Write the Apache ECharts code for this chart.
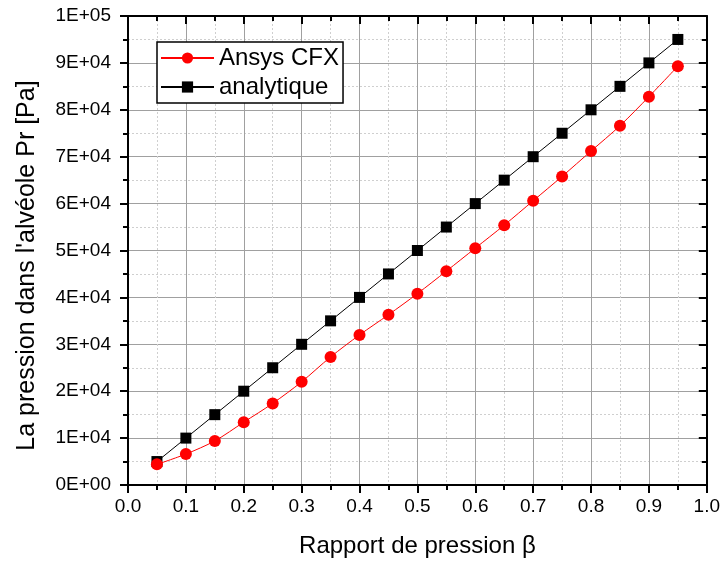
<!DOCTYPE html>
<html>
<head>
<meta charset="utf-8">
<script src="https://cdn.jsdelivr.net/npm/echarts@6/dist/echarts.min.js"></script>
<style>html,body{margin:0;padding:0;background:#fff}#c{width:723px;height:564px}</style>
</head>
<body>
<div id="c"></div>
<script>
const beta = [0.05,0.10,0.15,0.20,0.25,0.30,0.35,0.40,0.45,0.50,0.55,0.60,0.65,0.70,0.75,0.80,0.85,0.90,0.95];
const cfx = [4400,6600,9400,13400,17400,22000,27300,32000,36300,40800,45600,50500,55400,60600,65800,71200,76600,82800,89300];
const analytique = [5000,10000,15000,20000,25000,30000,35000,40000,45000,50000,55000,60000,65000,70000,75000,80000,85000,90000,95000];
const seriesNames = ['Ansys CFX','analytique'];
const xTitle = 'Rapport de pression \u03b2';
const yTitle = "La pression dans l'alv\u00e9ole Pr [Pa]";

function sci(v){
  if (v === 0) return '0E+00';
  const e = Math.floor(Math.log10(v) + 1e-9);
  const m = Math.round(v / Math.pow(10, e));
  return m + 'E+' + (e < 10 ? '0' + e : e);
}
const F = 'Liberation Sans, Arial, sans-serif';
const chart = echarts.init(document.getElementById('c'));
const axisLine = {show:true, onZero:false, lineStyle:{color:'#000', width:2}};
const major = {show:true, lineStyle:{color:'#a0a0a0', width:1}};
const minor = {show:true, lineStyle:{color:'#cfcfcf', width:1, type:[2,2]}};
chart.setOption({
  animation:false,
  grid:{left:128, right:14, top:16, bottom:79},
  legend:{
    orient:'vertical', left:157, top:42,
    data:seriesNames,
    borderColor:'#000', borderWidth:1.5, backgroundColor:'#fff',
    padding:[4,4,4,3], itemGap:5, itemWidth:53, itemHeight:14,
    textStyle:{fontFamily:F, fontSize:24, color:'#000'}
  },
  xAxis:[{
    type:'value', min:0, max:1, interval:0.1,
    name:xTitle, nameLocation:'middle', nameGap:49,
    nameTextStyle:{fontFamily:F, fontSize:24, color:'#000'},
    axisLine:axisLine,
    axisTick:{show:true, inside:false, length:8, lineStyle:{color:'#000', width:2}},
    minorTick:{show:true, splitNumber:2, length:5, lineStyle:{color:'#000', width:2}},
    axisLabel:{fontFamily:F, fontSize:19, color:'#000', margin:12, formatter:v=>v.toFixed(1)},
    splitLine:major, minorSplitLine:minor
  },{
    type:'value', min:0, max:1, interval:0.1, position:'top',
    axisLine:axisLine,
    axisTick:{show:true, inside:true, length:8, lineStyle:{color:'#000', width:2}},
    minorTick:{show:true, splitNumber:2, length:5, lineStyle:{color:'#000', width:2}},
    axisLabel:{show:false}, splitLine:{show:false}
  }],
  yAxis:[{
    type:'value', min:0, max:100000, interval:10000,
    name:yTitle, nameLocation:'middle', nameGap:88, nameRotate:90,
    nameTextStyle:{fontFamily:F, fontSize:25, color:'#000', padding:[0,0,0,-30]},
    axisLine:axisLine,
    axisTick:{show:true, inside:false, length:8, lineStyle:{color:'#000', width:2}},
    minorTick:{show:true, splitNumber:2, length:5, lineStyle:{color:'#000', width:2}},
    axisLabel:{fontFamily:F, fontSize:19, color:'#000', margin:17, formatter:sci},
    splitLine:major, minorSplitLine:minor
  },{
    type:'value', min:0, max:100000, interval:10000, position:'right',
    axisLine:axisLine,
    axisTick:{show:true, inside:true, length:8, lineStyle:{color:'#000', width:2}},
    minorTick:{show:true, splitNumber:2, length:5, lineStyle:{color:'#000', width:2}},
    axisLabel:{show:false}, splitLine:{show:false}
  }],
  series:[{
    name:seriesNames[1], type:'line',
    data:beta.map((b,i)=>[b, analytique[i]]),
    symbol:'rect', symbolSize:11,
    itemStyle:{color:'#000'}, lineStyle:{color:'#000', width:1}, z:2
  },{
    name:seriesNames[0], type:'line', smooth:0.3,
    data:beta.map((b,i)=>[b, cfx[i]]),
    symbol:'circle', symbolSize:12,
    itemStyle:{color:'#ff0000'}, lineStyle:{color:'#ff0000', width:1}, z:3
  }]
});
</script>
</body>
</html>
